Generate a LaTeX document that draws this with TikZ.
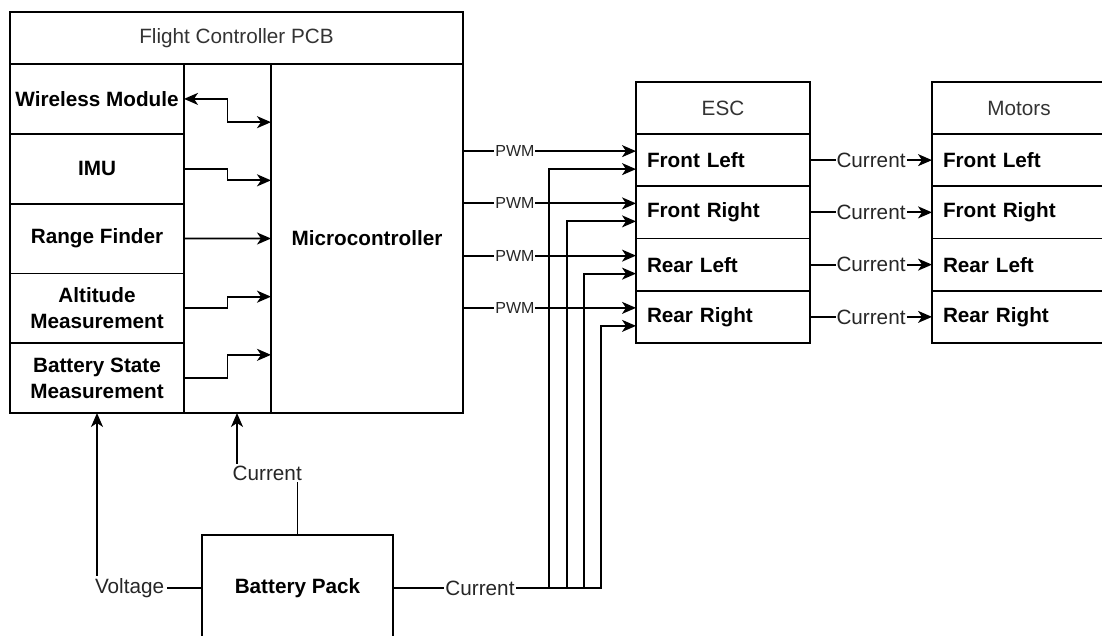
\documentclass[tikz,border=0pt]{standalone}
\usepackage{fontspec}
\setmainfont{Liberation Sans}
\usetikzlibrary{arrows.meta,positioning,calc}
\newcommand\cellfont{\fontsize{20.7}{26}\selectfont}
\newcommand\pwmfont{\fontsize{16}{19}\selectfont}

\begin{document}
\begin{tikzpicture}[x=1pt, y=-1pt, node distance=0pt, line width=1.8pt,
    head/.style={draw, outer sep=0pt, inner sep=0pt, minimum height=52pt, font=\cellfont, text=black!80},
    cell/.style={draw, outer sep=0pt, inner sep=0pt, minimum width=174pt, align=center, font=\cellfont\bfseries},
    row/.style={draw, outer sep=0pt, inner xsep=11pt, inner ysep=0pt, text width=152pt, align=left, minimum height=52.25pt, font=\cellfont\bfseries},
    arr/.style={-{Stealth[length=14pt, width=12pt, inset=4pt]}},
    biarr/.style={{Stealth[length=14pt, width=12pt, inset=4pt]}-{Stealth[length=14pt, width=12pt, inset=4pt]}},
    lbl/.style={fill=white, inner sep=2pt, font=\cellfont, text=black!85}]
    \useasboundingbox (0,0) rectangle (1102,635);
    % flight controller
    \node[head, minimum width=453pt] (fc) at (236.5,38) {Flight Controller PCB};
    \node[cell, minimum height=69.8pt, anchor=north west] (wm) at (fc.south west) {Wireless Module};
    \node[cell, minimum height=69.8pt, below=of wm] (imu) {IMU};
    \node[cell, minimum height=69.8pt, below=of imu] (rf) {Range Finder};
    \node[cell, minimum height=69.8pt, below=of rf] (alt) {Altitude\\Measurement};
    \node[cell, minimum height=69.8pt, below=of alt] (bsm) {Battery State\\Measurement};
    \node[draw, outer sep=0pt, minimum width=87pt, minimum height=349pt, anchor=north west] (bus) at (wm.north east) {};
    \node[cell, minimum width=192pt, minimum height=349pt, anchor=north west] (mcu) at (bus.north east) {Microcontroller};
    % esc and motors
    \node[head, minimum width=174pt] (esc) at (723,108) {ESC};
    \node[row, below=of esc] (escfl) {Front Left};
    \node[row, below=of escfl] (escfr) {Front Right};
    \node[row, below=of escfr] (escrl) {Rear Left};
    \node[row, below=of escrl] (escrr) {Rear Right};
    \node[head, minimum width=174pt] (mot) at (1019,108) {Motors};
    \node[row, below=of mot] (motfl) {Front Left};
    \node[row, below=of motfl] (motfr) {Front Right};
    \node[row, below=of motfr] (motrl) {Rear Left};
    \node[row, below=of motrl] (motrr) {Rear Right};
    % battery
    \node[cell, minimum width=191pt, minimum height=106pt] (bat) at (297.5,588) {Battery Pack};

    % sensors to microcontroller
    \foreach \i in {1,...,5}
      \coordinate (in\i) at ($(mcu.north west)!\i/6!(mcu.south west)$);
    \draw[biarr] (wm.east) -| (bus.center |- in1) -- (in1);
    \foreach \s/\i in {imu/2, alt/4, bsm/5}
      \draw[arr] (\s.east) -| (bus.center |- in\i) -- (in\i);
    \draw[arr] (rf.east) -- (in3);

    % pwm, power and motor lines
    \foreach \r/\dx in {fl/87, fr/69, rl/52, rr/35} {
      \coordinate (pwm\r) at ([yshift=9pt]esc\r.west);
      \coordinate (cur\r) at ([yshift=-9pt]esc\r.west);
      \draw[arr] (mcu.east |- pwm\r) -- node[lbl, inner sep=1pt, pos=0.3, font=\pwmfont]{PWM} (pwm\r);
      \draw[arr] (bat.east) -| ([xshift=-\dx pt]cur\r) -- (cur\r);
      \draw[arr] (esc\r.east) -- node[lbl, inner sep=1pt]{Current} (mot\r.west);
    }
    \node[lbl, inner sep=1pt] (batcur) at ($(bat.east)+(87,0)$) {Current};

    % battery to flight controller
    \draw[arr] (bat.west) -| node[lbl, inner xsep=3pt, pos=0.345]{Voltage} (bsm.south);
    \draw[arr] (bat.north) |- node[lbl, pos=0.75]{Current} ($(bus.south)+(9.5,60)$) -- ([xshift=9.5pt]bus.south);
\end{tikzpicture}
\end{document}
